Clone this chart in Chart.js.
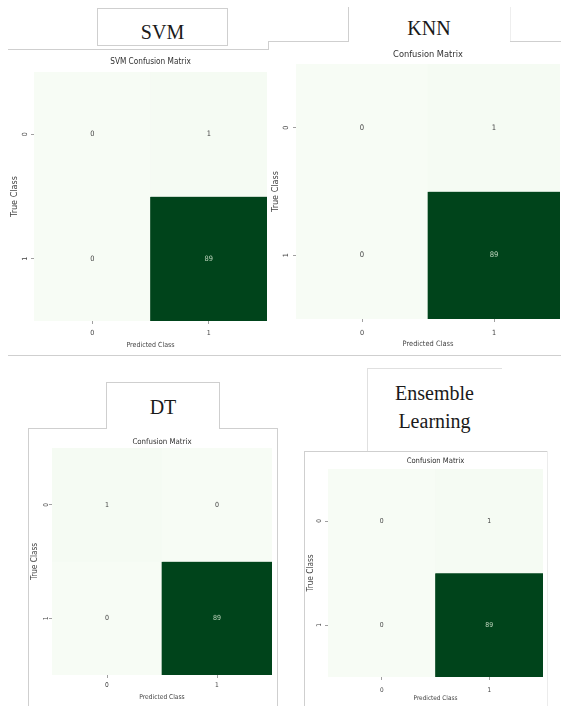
<!DOCTYPE html>
<html>
<head>
<meta charset="utf-8">
<script src="https://cdn.jsdelivr.net/npm/chart.js@4.4.1/dist/chart.umd.min.js"></script>
<style>
  html, body { margin: 0; padding: 0; background: #ffffff; }
  body { width: 561px; height: 706px; position: relative; overflow: hidden; }
  .ln { position: absolute; background: #cfcfcf; }
  .box { position: absolute; box-sizing: border-box; border-color: #cfcfcf; border-style: solid; border-width: 0; }
  .cap { position: absolute; font-family: "Liberation Serif", "Times New Roman", serif; font-size: 20px; line-height: 20px; color: #1a1a1a; text-align: center; white-space: nowrap; }
  canvas { position: absolute; }
</style>
</head>
<body>
<!-- frames -->
<div class="box" style="left:97px;top:8px;width:131px;height:38px;border-width:1px;"></div>
<div class="ln" style="left:8px;top:49px;width:261px;height:1px;"></div>
<div class="ln" style="left:268px;top:41px;width:1px;height:9px;"></div>
<div class="ln" style="left:268px;top:41px;width:80px;height:1px;"></div>
<div class="ln" style="left:348px;top:7px;width:1px;height:35px;"></div>
<div class="ln" style="left:510px;top:7px;width:1px;height:35px;background:#eeeeee;"></div>
<div class="ln" style="left:510px;top:41px;width:51px;height:1px;"></div>
<div class="ln" style="left:8px;top:355px;width:553px;height:1px;"></div>

<div class="box" style="left:106px;top:382px;width:114px;height:47px;border-width:1px 1px 0 1px;"></div>
<div class="ln" style="left:28px;top:428px;width:79px;height:1px;"></div>
<div class="ln" style="left:219px;top:428px;width:59px;height:1px;"></div>
<div class="ln" style="left:28px;top:428px;width:1px;height:278px;"></div>
<div class="ln" style="left:277px;top:428px;width:1px;height:278px;"></div>

<div class="box" style="left:367px;top:368px;width:135px;height:83px;border-width:1px 0 0 1px;border-color:#e0e0e0;"></div>
<div class="ln" style="left:304px;top:451px;width:244px;height:1px;"></div>
<div class="ln" style="left:304px;top:451px;width:1px;height:255px;"></div>
<div class="ln" style="left:547px;top:451px;width:1px;height:255px;background:#ececec;"></div>

<!-- panel captions -->
<div class="cap" style="left:97px;width:131px;top:22px;">SVM</div>
<div class="cap" style="left:348px;width:162px;top:18px;">KNN</div>
<div class="cap" style="left:106px;width:114px;top:397px;">DT</div>
<div class="cap" style="left:367px;width:135px;top:383px;">Ensemble</div>
<div class="cap" style="left:367px;width:135px;top:411px;">Learning</div>

<canvas id="cSVM"></canvas>
<canvas id="cKNN"></canvas>
<canvas id="cDT"></canvas>
<canvas id="cENS"></canvas>

<script>
// ---------------- data ----------------
const classLabels = ['0', '1'];
const svmMatrix = [[0, 1], [0, 89]];
const knnMatrix = [[0, 1], [0, 89]];
const dtMatrix = [[1, 0], [0, 89]];
const ensembleMatrix = [[0, 1], [0, 89]];
const chartTitles = ['SVM Confusion Matrix', 'Confusion Matrix', 'Confusion Matrix', 'Confusion Matrix'];
const xAxisTitle = 'Predicted Class';
const yAxisTitle = 'True Class';

// ---------------- colour map (matplotlib "Greens") ----------------
const greensStops = ['#f7fcf5', '#e5f5e0', '#c7e9c0', '#a1d99b', '#74c476', '#41ab5d', '#238b45', '#006d2c', '#00441b'];
function hexToRgb(h) { return [parseInt(h.slice(1, 3), 16), parseInt(h.slice(3, 5), 16), parseInt(h.slice(5, 7), 16)]; }
function greens(t) {
  t = Math.max(0, Math.min(1, t));
  const p = t * (greensStops.length - 1);
  const i = Math.min(Math.floor(p), greensStops.length - 2);
  const f = p - i;
  const a = hexToRgb(greensStops[i]), b = hexToRgb(greensStops[i + 1]);
  const c = a.map((v, k) => Math.round(v + (b[k] - v) * f));
  return 'rgb(' + c.join(',') + ')';
}

const FONT = '"DejaVu Sans Condensed", "DejaVu Sans", sans-serif';

const cellText = {
  id: 'cellText',
  afterDatasetsDraw(chart, args, opts) {
    const ctx = chart.ctx;
    ctx.save();
    ctx.font = opts.size + 'px ' + FONT;
    ctx.textAlign = 'center';
    ctx.textBaseline = 'middle';
    chart.data.datasets.forEach((ds, r) => {
      const meta = chart.getDatasetMeta(r);
      meta.data.forEach((el, c) => {
        const v = ds.cellValues[c];
        const p = el.getProps(['x', 'y', 'base'], true);
        ctx.fillStyle = ds.cellNorm[c] > 0.5 ? '#bcd4bc' : '#454545';
        ctx.fillText(String(v), p.x, (p.y + p.base) / 2);
      });
    });
    ctx.restore();
  }
};

function panel(id, matrix, title, g) {
  const yW = 30, xH = 29, tH = 16, tick = 3;
  const cv = document.getElementById(id);
  const left = g.L - yW, top = g.T - tH;
  const w = g.R - left, h = g.B + xH - top;
  cv.width = w; cv.height = h;
  cv.style.left = left + 'px'; cv.style.top = top + 'px';
  cv.style.width = w + 'px'; cv.style.height = h + 'px';

  const lhT = 1.2 * g.fT, lhL = 1.2 * g.fL, lhY = 1.2 * g.fY, lhK = 1.2 * g.fK;
  const tPadTop = tH - g.dT - lhT / 2;
  const tPadBot = tH - lhT - tPadTop;
  const yTitlePad = yW - g.dYL - lhY / 2;
  const yTickPad = g.dYT - tick - 0.3 * g.fK;
  const xTickPad = g.dXT - tick - lhK / 2;
  const xTitlePad = xH - g.dXL - lhL / 2;

  const maxV = Math.max(...matrix.flat());
  const datasets = matrix.map((row, r) => ({
    data: row.map(() => [r, r + 1]),
    cellValues: row,
    cellNorm: row.map(v => v / maxV),
    backgroundColor: row.map(v => greens(v / maxV)),
    borderWidth: 0,
    barPercentage: 1,
    categoryPercentage: 1,
    grouped: false
  }));

  new Chart(cv, {
    type: 'bar',
    data: { labels: classLabels, datasets },
    options: {
      responsive: false,
      animation: false,
      layout: { padding: 0 },
      plugins: {
        legend: { display: false },
        tooltip: { enabled: false },
        title: {
          display: true, text: title, fullSize: false,
          color: '#303030',
          font: { family: FONT, size: g.fT, weight: 'normal' },
          padding: { top: tPadTop, bottom: tPadBot }
        },
        cellText: { size: g.fA }
      },
      scales: {
        x: {
          type: 'category',
          offset: true,
          grid: { display: true, drawOnChartArea: false, offset: false, tickLength: tick, color: '#777', lineWidth: 0.7 },
          border: { display: false },
          ticks: { color: '#444', padding: xTickPad, font: { family: FONT, size: g.fK } },
          title: { display: true, text: xAxisTitle, color: '#444', font: { family: FONT, size: g.fL }, padding: { top: 0, bottom: xTitlePad } },
          afterFit(s) { s.height = xH; }
        },
        y: {
          type: 'linear', min: 0, max: classLabels.length, reverse: true,
          afterBuildTicks(s) { s.ticks = classLabels.map((_, i) => ({ value: i + 0.5 })); },
          grid: { display: true, drawOnChartArea: false, tickLength: tick, color: '#777', lineWidth: 0.7 },
          border: { display: false },
          ticks: {
            color: '#444', padding: yTickPad, crossAlign: 'center', minRotation: 90, maxRotation: 90,
            font: { family: FONT, size: g.fK },
            callback: (v) => classLabels[Math.floor(v)]
          },
          title: { display: true, text: yAxisTitle, color: '#444', font: { family: FONT, size: g.fY }, padding: { top: yTitlePad, bottom: 0 } },
          afterFit(s) { s.width = yW; }
        }
      }
    },
    plugins: [cellText]
  });
}

panel('cSVM', svmMatrix, chartTitles[0], { L: 34, T: 72, R: 267, B: 321, fT: 8.2, fL: 7, fY: 9, fK: 7, fA: 7.4, dT: 10, dXT: 12, dXL: 24, dYT: 9, dYL: 19 });
panel('cKNN', knnMatrix, chartTitles[1], { L: 296, T: 64, R: 560, B: 319, fT: 9.2, fL: 7.4, fY: 9, fK: 7.2, fA: 7.6, dT: 9, dXT: 14, dXL: 25, dYT: 10, dYL: 20 });
panel('cDT', dtMatrix, chartTitles[2], { L: 52, T: 448, R: 272, B: 675, fT: 7.8, fL: 6.6, fY: 8.2, fK: 6.6, fA: 7, dT: 6, dXT: 10, dXL: 22, dYT: 6, dYL: 17 });
panel('cENS', ensembleMatrix, chartTitles[3], { L: 328, T: 469, R: 543, B: 677, fT: 7.6, fL: 6.4, fY: 8.2, fK: 6.4, fA: 6.8, dT: 8, dXT: 13, dXL: 21, dYT: 9, dYL: 17 });
</script>
</body>
</html>
